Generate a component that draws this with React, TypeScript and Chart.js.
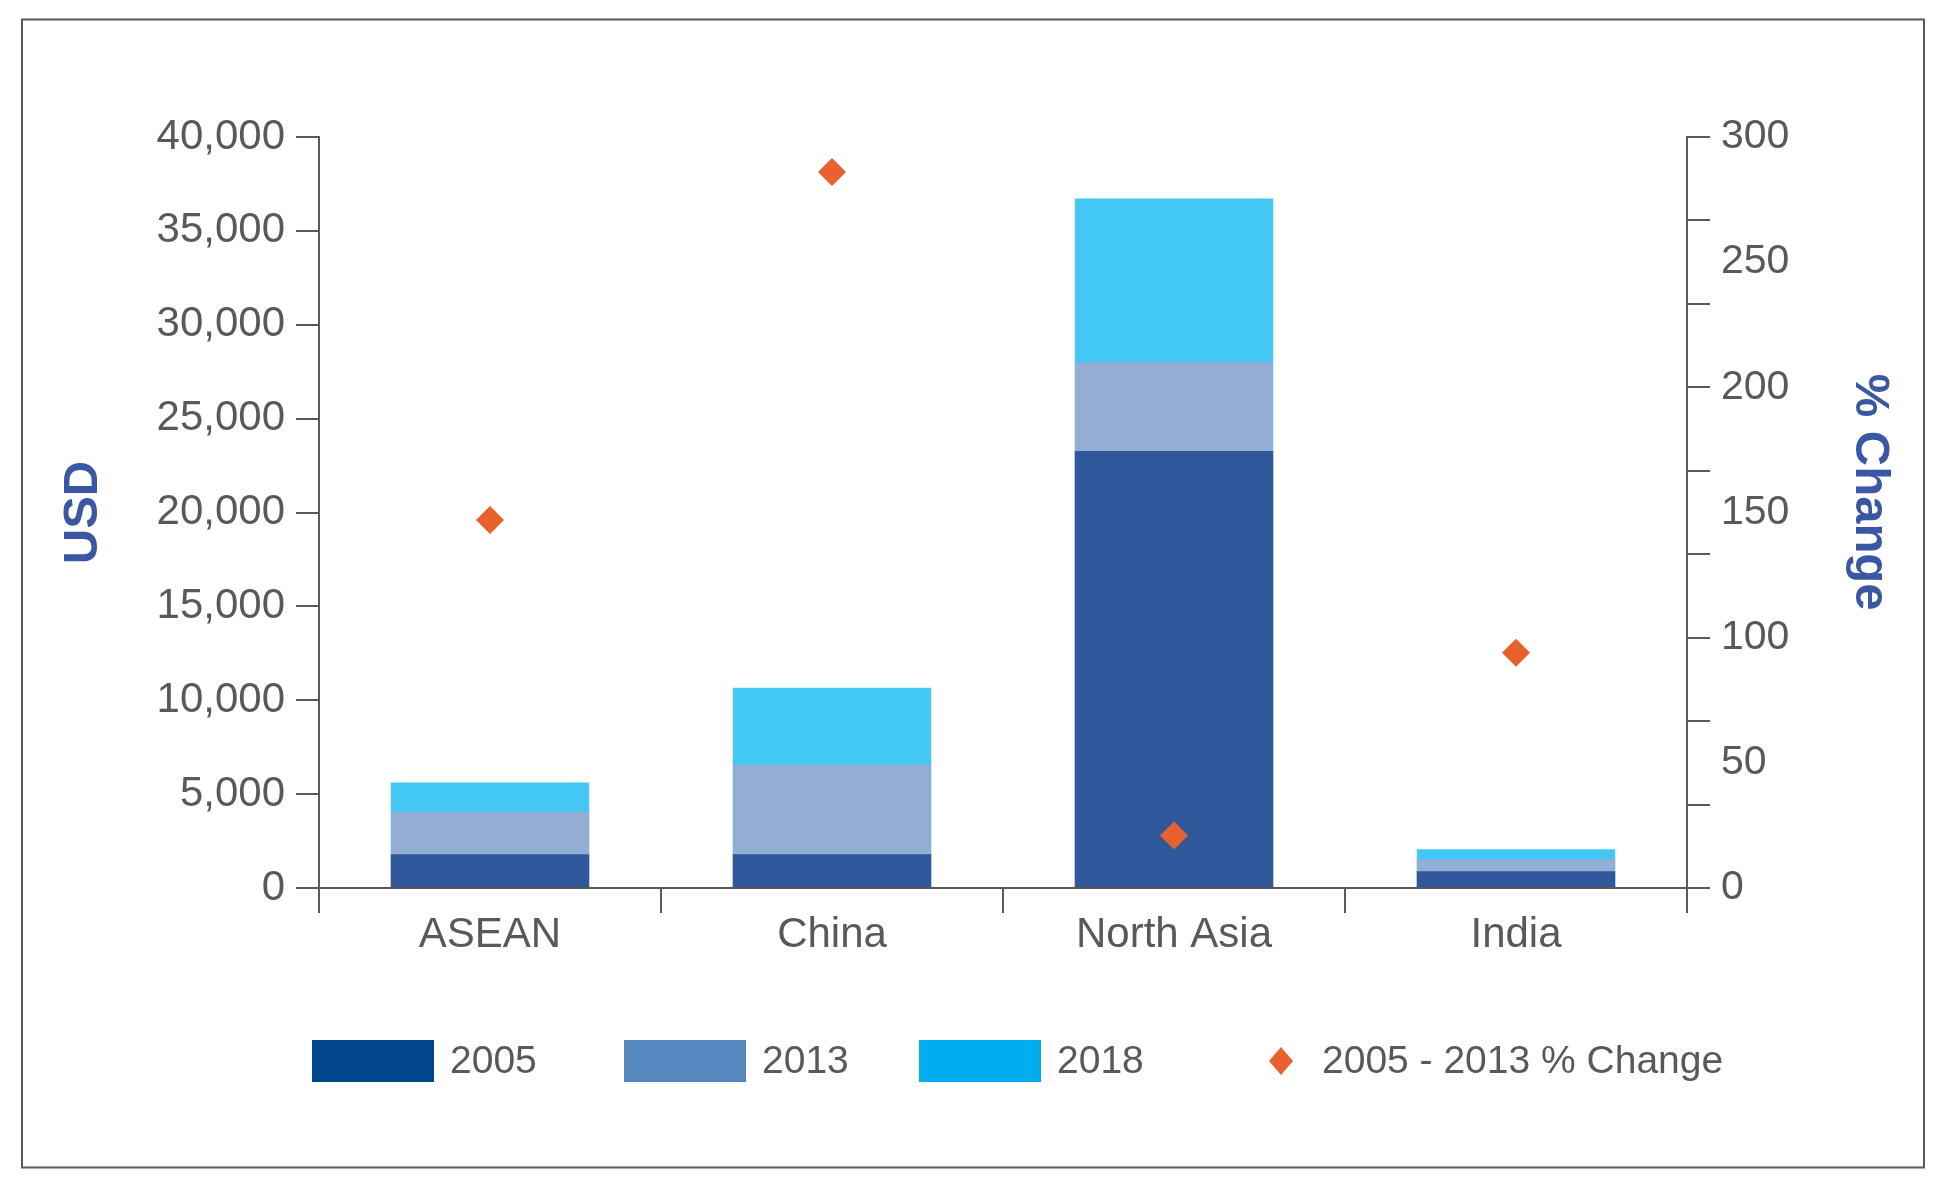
import React, { useEffect, useRef } from 'react';
import { Chart, registerables } from 'chart.js';

Chart.register(...registerables);

// ---- data ----
const categories = ['ASEAN', 'China', 'North Asia', 'India'];
const usd2005 = [1800, 1800, 23280, 890];
const usd2013 = [4060, 6560, 28000, 1530];
const usd2018 = [5620, 10670, 36720, 2060];
const pctChange = [147, 286, 21, 94];
const seriesLabels = ['2005', '2013', '2018', '2005 - 2013 % Change'];
const usdTicks = [0, 5000, 10000, 15000, 20000, 25000, 30000, 35000, 40000];
const pctLabels = [0, 50, 100, 150, 200, 250, 300];
const pctTickMarks = [0, 100 / 3, 200 / 3, 100, 400 / 3, 500 / 3, 200, 700 / 3, 800 / 3, 300];

// ---- styles ----
const barColors = ['#2E5899', '#93AED5', '#43C8F5'];
const legendColors = ['#00458E', '#5588BF', '#00AEEF'];
const pointColor = '#E8612C';
const axisColor = '#595959';
const textColor = '#595959';
const titleColor = '#3B57A3';
const FONT = "'Liberation Sans', Arial, sans-serif";

const near = (arr: number[], v: number) => arr.some((m) => Math.abs(m - v) < 1e-6);

const frameLegendPlugin = {
  id: 'frameLegend',
  afterDraw(chart: any) {
    const ctx = chart.ctx as CanvasRenderingContext2D;
    ctx.save();
    // outer frame
    ctx.strokeStyle = axisColor;
    ctx.lineWidth = 2;
    ctx.strokeRect(22, 19.5, 1902, 1148);

    // legend
    const cy = 1061;
    const swatchX = [312, 624, 919];
    ctx.font = `39px ${FONT}`;
    ctx.fillStyle = textColor;
    ctx.textBaseline = 'middle';
    ctx.textAlign = 'left';
    for (let i = 0; i < 3; i++) {
      ctx.fillStyle = legendColors[i];
      ctx.fillRect(swatchX[i], cy - 21, 122, 42);
      ctx.fillStyle = textColor;
      ctx.fillText(seriesLabels[i], swatchX[i] + 122 + 16, cy + 1);
    }
    const dx = 1281;
    ctx.fillStyle = pointColor;
    ctx.beginPath();
    ctx.moveTo(dx, cy - 14);
    ctx.lineTo(dx + 12, cy);
    ctx.lineTo(dx, cy + 14);
    ctx.lineTo(dx - 12, cy);
    ctx.closePath();
    ctx.fill();
    ctx.fillStyle = textColor;
    ctx.fillText(seriesLabels[3], 1322, cy + 1);
    ctx.restore();
  },
};

export default function App() {
  const ref = useRef<HTMLCanvasElement | null>(null);

  useEffect(() => {
    document.body.style.margin = '0';
    const canvas = ref.current;
    if (!canvas) return;
    const chart = new Chart(canvas, {
      type: 'bar',
      data: {
        labels: categories,
        datasets: [
          {
            type: 'line',
            label: seriesLabels[3],
            data: pctChange,
            yAxisID: 'y1',
            showLine: false,
            pointStyle: 'rectRot',
            pointRadius: 14,
            pointHoverRadius: 14,
            pointBorderWidth: 0,
            backgroundColor: pointColor,
            borderColor: pointColor,
            order: 0,
          } as any,
          {
            label: seriesLabels[0],
            data: usd2005,
            backgroundColor: barColors[0],
            yAxisID: 'y',
            stack: 's',
            order: 1,
          },
          {
            label: seriesLabels[1],
            data: usd2013,
            backgroundColor: barColors[1],
            yAxisID: 'y',
            stack: 's',
            order: 2,
          },
          {
            label: seriesLabels[2],
            data: usd2018,
            backgroundColor: barColors[2],
            yAxisID: 'y',
            stack: 's',
            order: 3,
          },
        ],
      },
      options: {
        responsive: false,
        animation: false,
        devicePixelRatio: 1,
        events: [],
        layout: { padding: { top: 137, left: 0, right: 0, bottom: 0 } },
        datasets: {
          bar: { barPercentage: 0.58, categoryPercentage: 1.0, borderWidth: 0 },
        },
        plugins: {
          legend: { display: false },
          tooltip: { enabled: false },
          title: { display: false },
        },
        scales: {
          x: {
            stacked: true,
            offset: true,
            grid: {
              offset: true,
              drawOnChartArea: false,
              tickLength: 25,
              color: axisColor,
              lineWidth: 2,
            },
            border: { display: true, color: axisColor, width: 2 },
            ticks: {
              color: textColor,
              font: { family: FONT, size: 42 },
              padding: -3,
              maxRotation: 0,
              autoSkip: false,
            },
            afterFit: (scale: any) => {
              scale.height = 301;
            },
          },
          y: {
            type: 'linear',
            position: 'left',
            stacked: false,
            min: 0,
            max: 40000,
            afterBuildTicks: (scale: any) => {
              scale.ticks = usdTicks.map((v) => ({ value: v }));
            },
            grid: {
              drawOnChartArea: false,
              tickLength: 23,
              color: axisColor,
              lineWidth: 2,
            },
            border: { display: true, color: axisColor, width: 2 },
            ticks: {
              color: textColor,
              font: { family: FONT, size: 42 },
              padding: 11,
              autoSkip: false,
              callback: (v: any) => Number(v).toLocaleString('en-US'),
            },
            title: {
              display: true,
              text: 'USD',
              color: titleColor,
              font: { family: FONT, size: 49, weight: 'bold' },
              padding: { top: 53.6, bottom: 0 },
            },
            afterFit: (scale: any) => {
              scale.width = 319;
            },
          },
          y1: {
            type: 'linear',
            position: 'right',
            stacked: false,
            min: 0,
            max: 300,
            afterBuildTicks: (scale: any) => {
              const vals = [...pctLabels, ...pctTickMarks].sort((a, b) => a - b);
              const uniq: number[] = [];
              vals.forEach((v) => {
                if (!uniq.some((u) => Math.abs(u - v) < 1e-6)) uniq.push(v);
              });
              scale.ticks = uniq.map((v) => ({ value: v }));
            },
            grid: {
              drawOnChartArea: false,
              tickLength: 23,
              lineWidth: 2,
              color: axisColor,
              tickColor: (ctx: any) =>
                ctx.tick && near(pctTickMarks, ctx.tick.value) ? axisColor : 'rgba(0,0,0,0)',
            },
            border: { display: true, color: axisColor, width: 2 },
            ticks: {
              color: textColor,
              font: { family: FONT, size: 41 },
              padding: 11,
              autoSkip: false,
              callback: (v: any) => (near(pctLabels, Number(v)) ? String(Math.round(Number(v))) : ''),
            },
            title: {
              display: true,
              text: '% Change\u00a0\u00a0\u00a0',
              color: titleColor,
              font: { family: FONT, size: 49, weight: 'bold' },
              padding: { top: 52, bottom: 0 },
            },
            afterFit: (scale: any) => {
              scale.width = 264;
            },
          },
        },
      } as any,
      plugins: [frameLegendPlugin],
    });
    return () => chart.destroy();
  }, []);

  return (
    <div style={{ width: 1951, height: 1189, background: '#ffffff' }}>
      <canvas ref={ref} width={1951} height={1189} style={{ display: 'block', width: 1951, height: 1189 }} />
    </div>
  );
}
